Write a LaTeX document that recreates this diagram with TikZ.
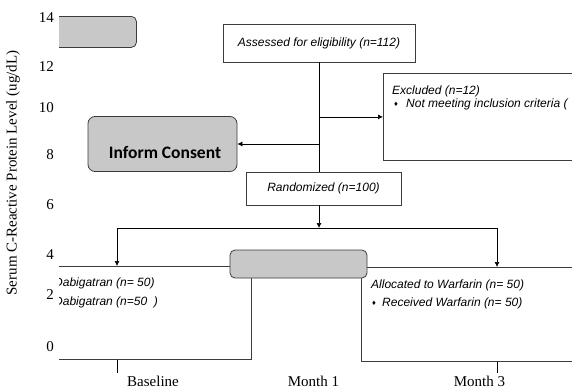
\documentclass[tikz,border=0pt]{standalone}
\usepackage{fontspec}
\setmainfont{Liberation Serif}
\newfontfamily\flowfont{Liberation Sans}
\newfontfamily\consentfont{Carlito}
\usetikzlibrary{arrows.meta,positioning}
\definecolor{BoxGray}{HTML}{C8C8C8}
\definecolor{EdgeGray}{HTML}{3C3C3C}
\tikzset{
  flowbox/.style={draw=EdgeGray, fill=white, line width=0.8pt, inner sep=0pt},
  graybox/.style={draw=EdgeGray, fill=BoxGray, line width=0.8pt, rounded corners=5pt, inner sep=0pt},
  flowtxt/.style={font=\flowfont\itshape\fontsize{12}{14}\selectfont, inner sep=0pt, anchor=west},
  bullettxt/.style={font=\flowfont\fontsize{7.5}{8}\selectfont, inner sep=0pt},
  axistxt/.style={font=\fontsize{15}{17}\selectfont, inner sep=0pt},
  flowarr/.style={-{Latex[length=5pt,width=5pt]}, line width=0.7pt}
}

\begin{document}
\begin{tikzpicture}[x=1pt, y=-1pt]
\useasboundingbox (0,0) rectangle (572,388);
% axis labels
\node[axistxt, rotate=90] (ylabel) at (13,173) {Serum C-Reactive Protein Level (ug/dL)};
\node[axistxt, anchor=east] (t14) at (54,18) {14};
\node[axistxt, anchor=east] (t12) at (54,67) {12};
\node[axistxt, anchor=east] (t10) at (54,108) {10};
\node[axistxt, anchor=east] (t8) at (54,155) {8};
\node[axistxt, anchor=east] (t6) at (54,205) {6};
\node[axistxt, anchor=east] (t4) at (54,255) {4};
\node[axistxt, anchor=east] (t2) at (54,295) {2};
\node[axistxt, anchor=east] (t0) at (54,347) {0};
\node[axistxt] (base) at (153,381) {Baseline};
\node[axistxt] (month1) at (313.5,381) {Month 1};
\node[axistxt] (month3) at (479.5,381) {Month 3};
\begin{scope}
\clip (59,0) rectangle (572,388);
% flow boxes
\node[graybox, minimum width=100pt, minimum height=31pt, anchor=north west] (corner) at (36,16) {};
\node[flowbox, minimum width=192pt, minimum height=38pt, flowtxt, anchor=center] (assess) at (319,43) {Assessed for eligibility (n=112)};
\node[flowbox, minimum width=240pt, minimum height=87pt, anchor=north west] (excl) at (383,73) {};
\node[graybox, rounded corners=7pt, minimum width=149pt, minimum height=55pt] (consent) at (162.5,144) {};
\node[font=\consentfont\bfseries\fontsize{17.5}{20}\selectfont, inner sep=0pt] (consenttxt) at (165,152) {Inform Consent};
\node[flowbox, minimum width=155pt, minimum height=33pt, flowtxt, anchor=center] (random) at (323.5,188.5) {Randomized (n=100)};
\node[flowbox, minimum width=232pt, minimum height=93pt, anchor=north east] (leftarm) at (252,266) {};
\node[flowbox, minimum width=240pt, minimum height=94pt, anchor=north west] (rightarm) at (361,267) {};
\node[graybox, minimum width=137pt, minimum height=28pt] (bar) at (298.5,264) {};
% box texts
\node[flowtxt] (excltitle) at (392,91) {Excluded (n=12)};
\node[bullettxt] (exclbul) at (396,104) {♦};
\node[flowtxt] (excltxt) at (406,104) {Not meeting inclusion criteria (};
\node[flowtxt] (dabi1) at (54,283) {Dabigatran (n= 50)};
\node[flowtxt] (dabi2) at (54,302) {Dabigatran (n=50\ \ )};
\node[flowtxt] (warf1) at (371,285) {Allocated to Warfarin (n= 50)};
\node[bullettxt] (warfbul) at (374,303) {♦};
\node[flowtxt] (warf2) at (382,303) {Received Warfarin (n= 50)};
% connectors
\coordinate (exclsplit) at (assess.south |- excl.west);
\coordinate (consplit) at (assess.south |- consent.east);
\coordinate (randsplit) at (assess.south |- 0,228);
\coordinate (leftsplit) at (117,228);
\coordinate (rightsplit) at (497,228);
\draw[line width=0.7pt] (assess.south) -- (assess.south |- random.north);
\draw[flowarr] (exclsplit) -- (excl.west);
\draw[flowarr] (consplit) -- (consent.east);
\draw[flowarr] (assess.south |- random.south) -- (randsplit);
\draw[line width=0.7pt] (leftsplit) -- (rightsplit);
\draw[flowarr] (leftsplit) -- (leftsplit |- leftarm.north);
\draw[flowarr] (rightsplit) -- (rightsplit |- rightarm.north);
% ticks
\draw[line width=0.7pt] (leftsplit |- leftarm.south) -- ++(0,13);
\draw[line width=0.7pt] (rightsplit |- rightarm.south) -- ++(0,11);
\end{scope}
\end{tikzpicture}
\end{document}
